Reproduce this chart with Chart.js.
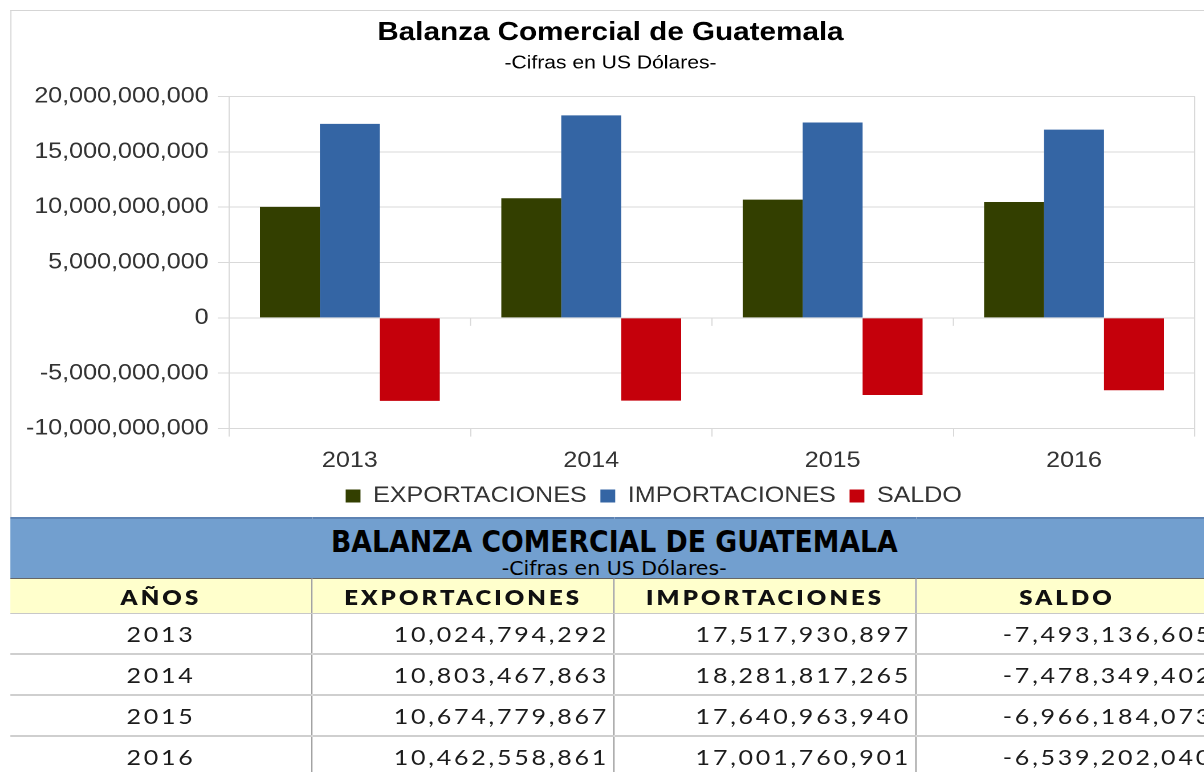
<!DOCTYPE html>
<html>
<head>
<meta charset="utf-8">
<script src="https://cdn.jsdelivr.net/npm/chart.js@4.4.0/dist/chart.umd.min.js"></script>
<style>
html, body { margin: 0; padding: 0; background: #fff; width: 1204px; height: 772px; overflow: hidden; }
/* the whole picture is a bit stretched sideways, so lay it out narrow and widen it */
#page { position: absolute; left: 0; top: 0; width: 1080px; height: 772px; transform: scaleX(1.14); transform-origin: 0 0; }
#chartBox { position: absolute; left: 9px; top: 10px; width: 1058px; height: 506px; border-top: 1px solid #d5d5d5; border-left: 1px solid #d5d5d5; }
#tbl { position: absolute; left: 9px; top: 517px; width: 1060px; border-collapse: collapse; table-layout: fixed; }
#tbl td, #tbl th { padding: 0; white-space: nowrap; overflow: hidden; }
#tbl .band td { background: #729fcf; height: 59px; text-align: center; border-top: 2px solid #5d83b3; vertical-align: top; }
#tbl .t1 { display: inline-block; transform: scaleX(0.84); font-family: 'Liberation Sans Narrow', 'Arial Narrow', 'DejaVu Sans Condensed', sans-serif; font-weight: bold; font-size: 31px; line-height: 34px; padding-top: 5px; color: #000; }
#tbl .t2 { font-family: 'Liberation Sans Narrow', 'Arial Narrow', 'DejaVu Sans Condensed', sans-serif; font-size: 20px; line-height: 20px; color: #000; }
#tbl th { background: #ffffcc; height: 34px; font-family: Lato, 'Open Sans', sans-serif; font-weight: 800; font-size: 21px; letter-spacing: 2.7px; color: #111; text-align: center; border-top: 1px solid #666; border-bottom: 1px solid #c8c8c8; border-right: 1px solid #8a8a8a; }
#tbl tbody td.c { height: 39px; font-family: Lato, 'Open Sans', sans-serif; font-size: 22px; letter-spacing: 2.4px; color: #1c1c1c; border-bottom: 2px solid #cfcfcf; border-right: 1px solid #8a8a8a; }
#tbl td.yr { text-align: center; }
#tbl td.num { text-align: right; padding-right: 4px; }
</style>
</head>
<body>
<div id="page">
  <div id="chartBox"><canvas id="myChart" width="1058" height="506"></canvas></div>
  <table id="tbl">
    <thead>
      <tr class="band"><td colspan="4"><div class="t1">BALANZA COMERCIAL DE GUATEMALA</div><div class="t2">-Cifras en US Dólares-</div></td></tr>
      <tr id="headRow"></tr>
    </thead>
    <tbody id="tbody"></tbody>
  </table>
</div>
<script>
// data
var years = ['2013', '2014', '2015', '2016'];
var exportaciones = [10024794292, 10803467863, 10674779867, 10462558861];
var importaciones = [17517930897, 18281817265, 17640963940, 17001760901];
var saldo = [-7493136605, -7478349402, -6966184073, -6539202040];
var seriesNames = ['EXPORTACIONES', 'IMPORTACIONES', 'SALDO'];
var tableHeads = ['AÑOS', 'EXPORTACIONES', 'IMPORTACIONES', 'SALDO'];
var yMin = -10000000000, yMax = 20000000000, yStep = 5000000000;

var colors = ['#333f00', '#3465a4', '#c5000b'];
var gridColor = '#d9d9d9';
var fontFam = "'Liberation Sans', Arial, sans-serif";

function fmt(v) { return v.toLocaleString('en-US'); }

// small ticks under the zero line at the category borders
var zeroTicks = {
    id: 'zeroTicks',
    afterDatasetsDraw: function(chart) {
        var xs = chart.scales.x, ys = chart.scales.y;
        var y0 = ys.getPixelForValue(0);
        var step = (xs.right - xs.left) / years.length;
        var c = chart.ctx;
        c.save();
        c.strokeStyle = gridColor;
        c.lineWidth = 1;
        for (var i = 1; i < years.length; i++) {
            var x = xs.left + step * i;
            c.beginPath(); c.moveTo(x, y0); c.lineTo(x, y0 + 8); c.stroke();
        }
        c.restore();
    }
};
// legend sits a bit right of the centre in the original
var legendShift = {
    id: 'legendShift',
    afterLayout: function(chart) { chart.legend.left += 38; chart.legend.right += 38; }
};

var config = {
    type: 'bar',
    data: {
        labels: years,
        datasets: [
            { label: seriesNames[0], data: exportaciones, backgroundColor: colors[0] },
            { label: seriesNames[1], data: importaciones, backgroundColor: colors[1] },
            { label: seriesNames[2], data: saldo, backgroundColor: colors[2] }
        ]
    },
    options: {
        responsive: false,
        animation: false,
        devicePixelRatio: 2,
        layout: { padding: { left: 13, right: 20, top: 0, bottom: 0 } },
        datasets: { bar: { categoryPercentage: 0.745, barPercentage: 1 } },
        plugins: {
            title: {
                display: true, text: 'Balanza Comercial de Guatemala', color: '#000',
                font: { family: fontFam, size: 26, weight: 'bold' },
                padding: { top: 6, bottom: 0 }
            },
            subtitle: {
                display: true, text: '-Cifras en US Dólares-', color: '#000',
                font: { family: fontFam, size: 18.5 },
                padding: { top: 4, bottom: 22 }
            },
            legend: {
                position: 'bottom',
                labels: { color: '#333', font: { family: fontFam, size: 22 }, boxWidth: 13, boxHeight: 13, padding: 12 }
            },
            tooltip: { enabled: false }
        },
        scales: {
            x: {
                afterFit: function(scale) { scale.height -= 12; },
                grid: {
                    offset: true,
                    color: function(ctx) { return (ctx.index === 0 || ctx.index === undefined) ? gridColor : 'rgba(0,0,0,0)'; },
                    tickColor: gridColor, tickLength: 8
                },
                border: { display: true, color: gridColor },
                ticks: { color: '#333', font: { family: fontFam, size: 22 }, padding: 11, maxRotation: 0 }
            },
            y: {
                min: yMin, max: yMax,
                afterFit: function(scale) { scale.width = 178; },
                grid: { color: gridColor, tickColor: gridColor, tickLength: 10 },
                border: { display: true, color: gridColor },
                ticks: { stepSize: yStep, color: '#333', font: { family: fontFam, size: 22 }, padding: 8, callback: function(v) { return fmt(v); } }
            }
        }
    },
    plugins: [zeroTicks, legendShift]
};
var ctx = document.getElementById('myChart').getContext('2d');
var chart = new Chart(ctx, config);

// table below the chart, from the same arrays
var head = document.getElementById('headRow');
tableHeads.forEach(function(h) {
    var th = document.createElement('th');
    th.textContent = h;
    head.appendChild(th);
});
var tb = document.getElementById('tbody');
years.forEach(function(y, i) {
    var tr = document.createElement('tr');
    var cells = [[y, 'yr'], [fmt(exportaciones[i]), 'num'], [fmt(importaciones[i]), 'num'], [fmt(saldo[i]), 'num']];
    cells.forEach(function(cl) {
        var td = document.createElement('td');
        td.className = 'c ' + cl[1];
        td.textContent = cl[0];
        tr.appendChild(td);
    });
    tb.appendChild(tr);
});
</script>
</body>
</html>
